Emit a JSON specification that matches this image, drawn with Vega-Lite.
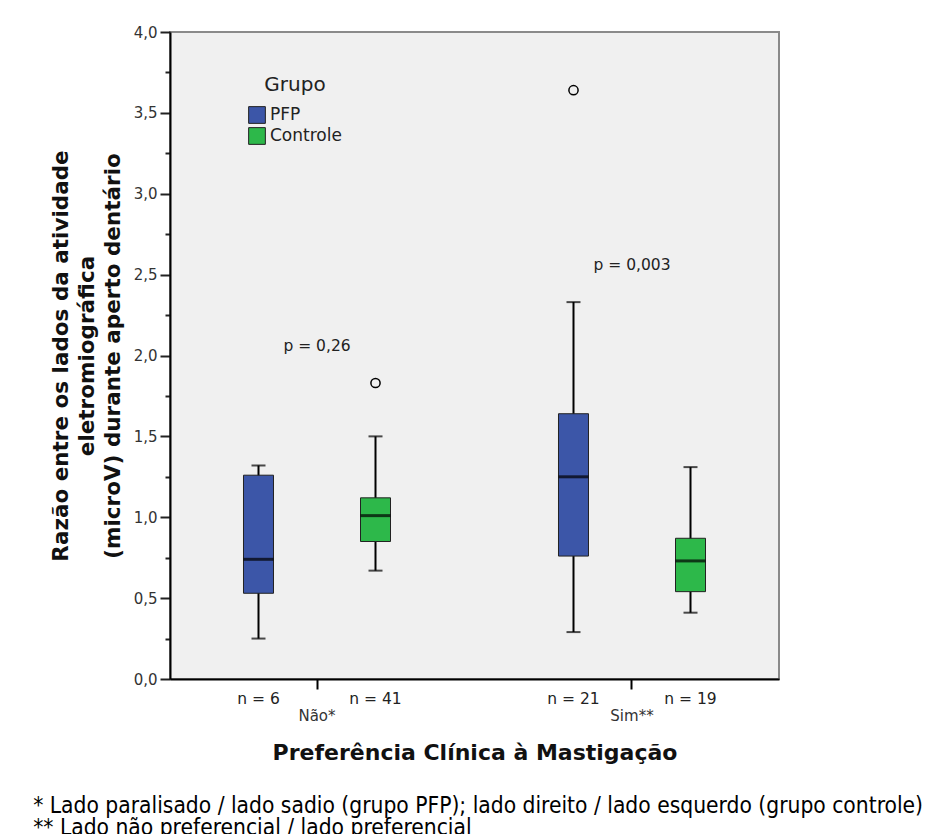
{
  "$schema": "https://vega.github.io/schema/vega-lite/v6.json",
  "width": 609,
  "height": 647,
  "autosize": "none",
  "padding": {"left": 170, "top": 32, "right": 153, "bottom": 155},
  "background": "white",
  "config": {
    "view": {"fill": "#f0f0f0", "stroke": "#8a8a8a", "strokeWidth": 2},
    "font": "DejaVu Sans"
  },
  "datasets": {
    "boxes": [
      {"cat": "Não*", "grupo": "PFP", "lower": 0.25, "q1": 0.53, "median": 0.74, "q3": 1.26, "upper": 1.32, "n": "n = 6"},
      {"cat": "Não*", "grupo": "Controle", "lower": 0.67, "q1": 0.85, "median": 1.01, "q3": 1.12, "upper": 1.5, "n": "n = 41"},
      {"cat": "Sim**", "grupo": "PFP", "lower": 0.29, "q1": 0.76, "median": 1.25, "q3": 1.64, "upper": 2.33, "n": "n = 21"},
      {"cat": "Sim**", "grupo": "Controle", "lower": 0.41, "q1": 0.54, "median": 0.73, "q3": 0.87, "upper": 1.31, "n": "n = 19"}
    ],
    "outliers": [
      {"cat": "Não*", "grupo": "Controle", "value": 1.83},
      {"cat": "Sim**", "grupo": "PFP", "value": 3.64}
    ],
    "pvalues": [
      {"cat": "Não*", "label": "p = 0,26", "value": 2.06},
      {"cat": "Sim**", "label": "p = 0,003", "value": 2.56}
    ]
  },
  "title": {
    "text": ["* Lado paralisado / lado sadio (grupo PFP); lado direito / lado esquerdo (grupo controle)", "** Lado não preferencial / lado preferencial"],
    "orient": "bottom",
    "anchor": "start",
    "dx": -17,
    "offset": 32,
    "font": "DejaVu Sans Condensed",
    "fontSize": 22.6,
    "fontWeight": "normal",
    "lineHeight": 22,
    "color": "#000"
  },
  "encoding": {
    "x": {
      "field": "cat",
      "type": "nominal",
      "sort": ["Não*", "Sim**"],
      "scale": {"domain": ["Não*", "Sim**"], "paddingInner": 0.1, "paddingOuter": 0.01667},
      "axis": {
        "title": "Preferência Clínica à Mastigação",
        "titleFont": "DejaVu Sans",
        "titleFontSize": 22,
        "titleFontWeight": "bold",
        "titleColor": "#111",
        "titlePadding": 19,
        "labelAngle": 0,
        "labelFontSize": 15,
        "labelColor": "#333",
        "labelPadding": 19,
        "tickSize": 10,
        "tickColor": "#000",
        "tickWidth": 2,
        "domainColor": "#000",
        "domainWidth": 2
      }
    }
  },
  "layer": [
    {
      "data": {"name": "boxes"},
      "mark": {"type": "rule", "color": "#000", "strokeWidth": 2},
      "encoding": {
        "xOffset": {"field": "grupo", "type": "nominal", "scale": {"domain": ["PFP", "Controle"], "paddingInner": 0, "paddingOuter": 0.2115}},
        "y": {
          "field": "lower",
          "type": "quantitative",
          "scale": {"domain": [0, 4], "nice": false},
          "axis": {
            "title": ["Razão entre os lados da atividade", "eletromiográfica", "(microV) durante aperto dentário"],
            "titleFont": "DejaVu Sans",
            "titleFontSize": 21.5,
            "titleFontWeight": "bold",
            "titleColor": "#111",
            "titleLineHeight": 26,
            "titlePadding": 9,
            "values": [0, 0.25, 0.5, 0.75, 1, 1.25, 1.5, 1.75, 2, 2.25, 2.5, 2.75, 3, 3.25, 3.5, 3.75, 4],
            "labelExpr": "(round(datum.value*4) % 2 == 0) ? replace(format(datum.value, '.1f'), '.', ',') : ''",
            "labelFontSize": 15,
            "labelColor": "#333",
            "labelPadding": 3,
            "tickSize": {"condition": {"test": "round(datum.value*4) % 2 == 0", "value": 10}, "value": 5},
            "tickColor": "#222",
            "tickWidth": 2,
            "domainColor": "#000",
            "domainWidth": 2,
            "grid": false
          }
        },
        "y2": {"field": "upper"}
      }
    },
    {
      "data": {"name": "boxes"},
      "mark": {"type": "tick", "color": "#000", "size": 14, "thickness": 2, "orient": "horizontal"},
      "encoding": {
        "xOffset": {"field": "grupo", "type": "nominal"},
        "y": {"field": "lower", "type": "quantitative"}
      }
    },
    {
      "data": {"name": "boxes"},
      "mark": {"type": "tick", "color": "#000", "size": 14, "thickness": 2, "orient": "horizontal"},
      "encoding": {
        "xOffset": {"field": "grupo", "type": "nominal"},
        "y": {"field": "upper", "type": "quantitative"}
      }
    },
    {
      "data": {"name": "boxes"},
      "mark": {"type": "bar", "size": 30, "stroke": "#222", "strokeWidth": 1, "opacity": 1},
      "encoding": {
        "xOffset": {"field": "grupo", "type": "nominal"},
        "y": {"field": "q1", "type": "quantitative"},
        "y2": {"field": "q3"},
        "fill": {
          "field": "grupo",
          "type": "nominal",
          "scale": {"domain": ["PFP", "Controle"], "range": ["#3c56a8", "#2db84a"]},
          "legend": {
            "title": "Grupo",
            "orient": "none",
            "legendX": 78,
            "legendY": 43,
            "titleAnchor": "middle",
            "titleFont": "DejaVu Sans",
            "titleFontSize": 20,
            "titleFontWeight": "normal",
            "titleColor": "#222",
            "titlePadding": 11,
            "labelFont": "DejaVu Sans",
            "labelFontSize": 17,
            "labelColor": "#222",
            "labelOffset": 4,
            "symbolType": "square",
            "symbolSize": 280,
            "symbolStrokeColor": "#222",
            "symbolStrokeWidth": 1,
            "rowPadding": -1
          }
        }
      }
    },
    {
      "data": {"name": "boxes"},
      "mark": {"type": "tick", "color": "#000", "size": 30, "thickness": 3, "orient": "horizontal"},
      "encoding": {
        "xOffset": {"field": "grupo", "type": "nominal"},
        "y": {"field": "median", "type": "quantitative"}
      }
    },
    {
      "data": {"name": "outliers"},
      "mark": {"type": "point", "shape": "circle", "filled": false, "stroke": "#000", "strokeWidth": 1.5, "size": 85, "opacity": 1},
      "encoding": {
        "xOffset": {"field": "grupo", "type": "nominal"},
        "y": {"field": "value", "type": "quantitative"}
      }
    },
    {
      "data": {"name": "boxes"},
      "mark": {"type": "text", "fontSize": 15.5, "color": "#222", "dy": 20, "baseline": "middle"},
      "encoding": {
        "xOffset": {"field": "grupo", "type": "nominal"},
        "y": {"datum": 0, "type": "quantitative"},
        "text": {"field": "n"}
      }
    },
    {
      "data": {"name": "pvalues"},
      "mark": {"type": "text", "fontSize": 15.5, "color": "#222", "baseline": "middle"},
      "encoding": {
        "y": {"field": "value", "type": "quantitative"},
        "text": {"field": "label"}
      }
    }
  ]
}
